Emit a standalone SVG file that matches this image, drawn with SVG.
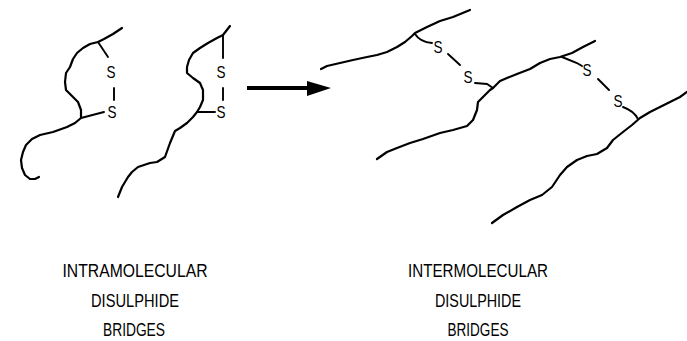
<svg xmlns="http://www.w3.org/2000/svg" width="687" height="341" viewBox="0 0 687 341">
  <style>
    .chain { fill: none; stroke: #000; stroke-width: 2.2; stroke-linejoin: round; stroke-linecap: round; }
    .bond { fill: none; stroke: #000; stroke-width: 1.9; stroke-linecap: round; }
    .atom { font-family: "Liberation Sans", Arial, sans-serif; font-size: 17px; fill: #000; text-anchor: middle; }
    .label { font-family: "Liberation Sans", Arial, sans-serif; font-size: 18px; fill: #000; text-anchor: middle; }
  </style>
  <rect width="687" height="341" fill="#fff"/>

  <!-- single chain folded back on itself, bridged by S-S -->
  <g id="intra-chain-1">
    <polyline class="chain" points="122,28 113,34 104,39 98,42 90,44 83,48 77,53 73,59 70,67 66,73 65,82 66,90 72,96 78,102 81,110 81,118 75,123 67,127 53,132 40,135 32,139 26,145 23,152 21,160 22,168 25,175 30,179 35,179 39,177"/>
    <polyline class="bond" points="98,42 108,57"/>
    <text class="atom" x="111" y="78" textLength="9" lengthAdjust="spacingAndGlyphs">S</text>
    <line class="bond" x1="114" y1="88" x2="114" y2="100"/>
    <text class="atom" x="112" y="118" textLength="9" lengthAdjust="spacingAndGlyphs">S</text>
    <line class="bond" x1="81" y1="118" x2="104" y2="112"/>
  </g>

  <g id="intra-chain-2">
    <polyline class="chain" points="230,26 223,35 217,38 208,43 200,48 193,53 189,60 187,67 187,73 193,78 200,83 203,90 203,100 200,107 197,112 193,117 187,123 180,128 175,131 170,143 165,157 157,162 150,163 138,167 132,172 128,177 122,187 118,197"/>
    <line class="bond" x1="223" y1="35" x2="223" y2="58"/>
    <text class="atom" x="221" y="78" textLength="9" lengthAdjust="spacingAndGlyphs">S</text>
    <line class="bond" x1="223" y1="88" x2="223" y2="100"/>
    <text class="atom" x="221" y="118" textLength="9" lengthAdjust="spacingAndGlyphs">S</text>
    <line class="bond" x1="197" y1="112" x2="215" y2="112"/>
  </g>

  <!-- reaction arrow -->
  <g id="arrow">
    <line x1="247" y1="88" x2="310" y2="88" stroke="#000" stroke-width="4"/>
    <polygon points="307,81 331,88 307,96" fill="#000"/>
  </g>

  <!-- three chains cross-linked by two S-S bridges -->
  <g id="inter-chain-1">
    <polyline class="chain" points="321,69 327,66 340,63 353,60 367,57 377,55 387,52 397,47 405,42 412,36 415,33 427,27 440,21 453,17 470,10"/>
  </g>
  <g id="inter-chain-2">
    <polyline class="chain" points="377,159 387,152 397,148 410,143 423,139 440,133 453,130 467,126 473,120 477,110 478,102 483,97 490,90 493,88 500,81 507,78 517,74 530,69 540,63 550,59 560,57 572,53 583,47 595,41"/>
  </g>
  <g id="inter-chain-3">
    <polyline class="chain" points="492,223 503,215 517,207 530,200 542,195 552,187 560,175 567,167 577,160 587,156 597,154 607,148 613,140 623,132 632,125 640,118 650,112 660,107 670,102 680,97 687,92"/>
  </g>

  <g id="bridge-1">
    <path class="bond" d="M415,34 Q420,42 432,43"/>
    <text class="atom" x="438" y="53" textLength="9" lengthAdjust="spacingAndGlyphs">S</text>
    <line class="bond" x1="448" y1="54" x2="460" y2="65"/>
    <text class="atom" x="468" y="83" textLength="9" lengthAdjust="spacingAndGlyphs">S</text>
    <polyline class="bond" points="475,83 487,84 493,88"/>
  </g>
  <g id="bridge-2">
    <polyline class="bond" points="562,57 577,63 582,66"/>
    <text class="atom" x="587" y="76" textLength="9" lengthAdjust="spacingAndGlyphs">S</text>
    <line class="bond" x1="598" y1="79" x2="609" y2="90"/>
    <text class="atom" x="618" y="107" textLength="9" lengthAdjust="spacingAndGlyphs">S</text>
    <path class="bond" d="M623,107 Q634,111 638,119"/>
  </g>

  <!-- captions -->
  <g id="caption-intra">
    <text class="label" x="135" y="277" textLength="145" lengthAdjust="spacingAndGlyphs">INTRAMOLECULAR</text>
    <text class="label" x="135" y="307" textLength="88" lengthAdjust="spacingAndGlyphs">DISULPHIDE</text>
    <text class="label" x="134" y="336" textLength="62" lengthAdjust="spacingAndGlyphs">BRIDGES</text>
  </g>
  <g id="caption-inter">
    <text class="label" x="478" y="277" textLength="140" lengthAdjust="spacingAndGlyphs">INTERMOLECULAR</text>
    <text class="label" x="478" y="307" textLength="86" lengthAdjust="spacingAndGlyphs">DISULPHIDE</text>
    <text class="label" x="478" y="336" textLength="61" lengthAdjust="spacingAndGlyphs">BRIDGES</text>
  </g>
</svg>
